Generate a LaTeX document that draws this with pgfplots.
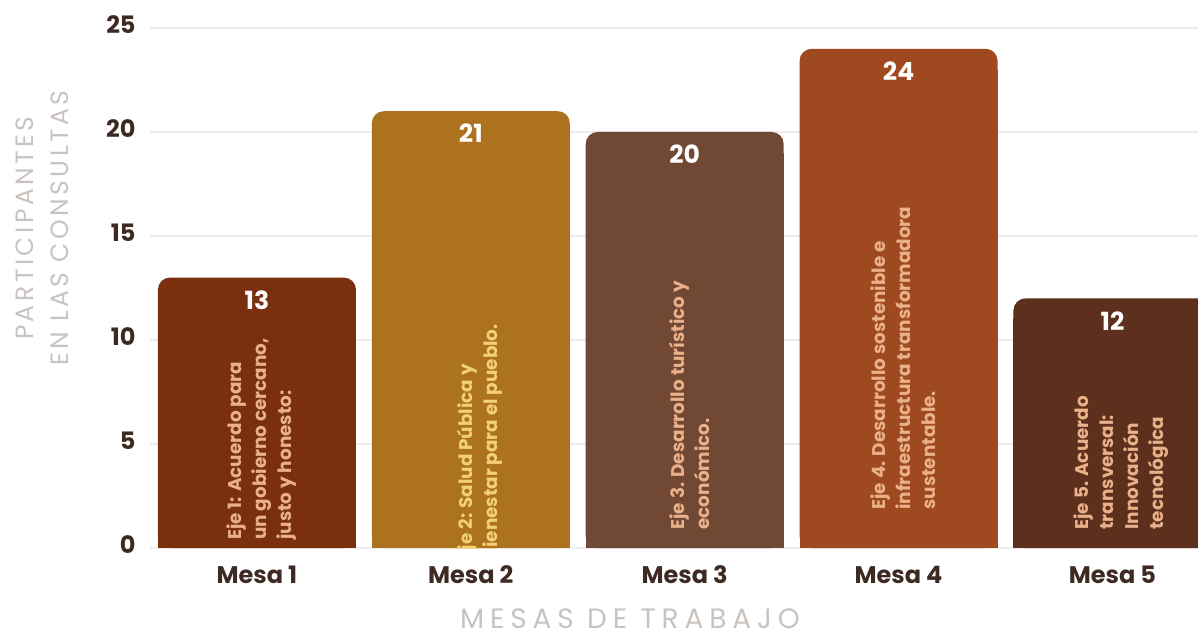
\documentclass[border=0pt]{standalone}
\usepackage{fontspec}
\setmainfont{Poppins}
\newfontfamily\xlabfont[LetterSpace=21]{Poppins}
\newfontfamily\ylabfont[LetterSpace=14]{Poppins}
\usepackage{pgfplots}
\pgfplotsset{compat=1.18}

\definecolor{mesaA}{HTML}{7A2F0E}
\definecolor{mesaB}{HTML}{AD721E}
\definecolor{mesaC}{HTML}{714834}
\definecolor{mesaD}{HTML}{9E491F}
\definecolor{mesaE}{HTML}{5C301C}
\definecolor{descc}{HTML}{E9B08A}
\definecolor{tickc}{HTML}{3E2A22}
\definecolor{labc}{HTML}{C9C3C0}
\definecolor{gridc}{HTML}{EFEDEC}

\pgfplotsset{
  basebar/.style={ybar, bar width=99pt, bar shift=0pt, draw=none,
    y filter/.expression={y-1}},
  topbar/.style={ybar, bar width=99pt, bar shift=0pt, draw=none,
    rounded corners=6pt, nodes near coords,
    every node near coord/.append style={anchor=north, yshift=-3pt,
      font=\bfseries\fontsize{12.5}{14}\selectfont, text=white}},
}
\tikzset{
  desc/.style={rotate=90, anchor=west, align=left, inner sep=0pt,
    font=\bfseries\fontsize{9.2}{12.5}\selectfont, text=descc},
}

\begin{document}
\begin{tikzpicture}
\begin{axis}[
  name=ax,
  scale only axis,
  width=524pt, height=260pt,
  xmin=-0.5, xmax=4.4,
  ymin=0, ymax=25,
  ytick={0,5,...,25},
  xtick={0,...,4},
  xticklabels={Mesa 1,Mesa 2,Mesa 3,Mesa 4,Mesa 5},
  axis line style={draw=none},
  major tick style={draw=none},
  ymajorgrids,
  grid style={draw=gridc, line width=0.6pt},
  /pgf/number format/assume math mode=true,
  tick label style={font=\bfseries\fontsize{12}{14}\selectfont, text=tickc, inner sep=0pt},
  yticklabel style={anchor=east, xshift=-7pt, yshift=1.5pt},
  xticklabel style={anchor=center, yshift=-13.5pt},
  xlabel={MESAS DE TRABAJO},
  ylabel={PARTICIPANTES\\EN LAS CONSULTAS},
  every axis x label/.style={at={(axis description cs:0.458,0)}, anchor=center,
    inner sep=0pt, yshift=-35.5pt, font=\xlabfont\fontsize{14}{16}\selectfont, text=labc},
  every axis y label/.style={at={(axis description cs:-0.103,0.615)}, rotate=90,
    anchor=center, align=center,
    font=\ylabfont\fontsize{12.5}{17.5}\selectfont, text=labc},
]
% base (square bottom) then rounded top with value
\addplot[basebar, fill=mesaA] coordinates {(0,13)};
\addplot[topbar, fill=mesaA] coordinates {(0,13)};
\addplot[basebar, fill=mesaB] coordinates {(1,21)};
\addplot[topbar, fill=mesaB] coordinates {(1,21)};
\addplot[basebar, fill=mesaC] coordinates {(2,20)};
\addplot[topbar, fill=mesaC] coordinates {(2,20)};
\addplot[basebar, fill=mesaD] coordinates {(3,24)};
\addplot[topbar, fill=mesaD] coordinates {(3,24)};
\addplot[basebar, fill=mesaE] coordinates {(4,12)};
\addplot[topbar, fill=mesaE] coordinates {(4,12)};

\begin{scope}
\clip (rel axis cs:0,0) rectangle (rel axis cs:1,1);
\node[desc] at (axis cs:0.02,0.38) {Eje 1: Acuerdo para\\un gobierno cercano,\\justo y honesto:};
\node[desc, text=descc!70!yellow!85!white] at (axis cs:1.04,-0.6) {Eje 2: Salud Pública y\\bienestar para el pueblo.};
\node[desc] at (axis cs:2.02,0.87) {Eje 3. Desarrollo turístico y\\económico.};
\node[desc] at (axis cs:3.02,1.83) {Eje 4. Desarrollo sostenible e\\infraestructura transformadora\\sustentable.};
\node[desc] at (axis cs:4.04,0.87) {Eje 5. Acuerdo\\transversal:\\Innovación\\tecnológica};
\end{scope}
\end{axis}
\pgfresetboundingbox
\path[use as bounding box] (ax.south west) ++(-75pt,-41.5pt) rectangle ++(599pt,315.5pt);
\end{tikzpicture}
\end{document}
